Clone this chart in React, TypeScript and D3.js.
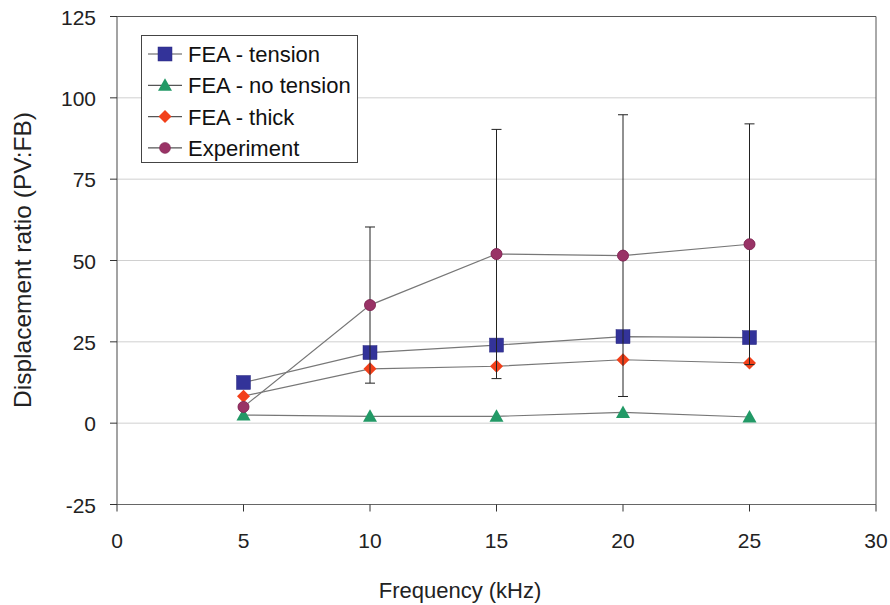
import React from "react";
import * as d3 from "d3";

const frequencies = [5, 10, 15, 20, 25];
const feaTension = [12.5, 21.7, 24.0, 26.6, 26.3];
const feaNoTension = [2.5, 2.1, 2.1, 3.3, 1.9];
const feaThick = [8.3, 16.7, 17.5, 19.5, 18.5];
const experiment = [5.0, 36.3, 52.0, 51.5, 55.0];
const experimentError = [0, 24.0, 38.3, 43.3, 37.0];
const xTicks = [0, 5, 10, 15, 20, 25, 30];
const yTicks = [-25, 0, 25, 50, 75, 100, 125];
const legendLabels = ["FEA - tension", "FEA - no tension", "FEA - thick", "Experiment"];

const W = 890, H = 605;
const left = 117, right = 876, top = 16.5, bottom = 504.5;
const font = "'Liberation Sans', Arial, sans-serif";

function Marker({ kind, x, y }: { kind: string; x: number; y: number }) {
  if (kind === "square")
    return <rect x={x - 7} y={y - 7} width={14} height={14} fill="#333399" stroke="#2b2b80" strokeWidth={0.5} />;
  if (kind === "triangle")
    return <path d={`M${x},${y - 7} L${x + 7},${y + 5.5} L${x - 7},${y + 5.5} Z`} fill="#229966" />;
  if (kind === "diamond")
    return <path d={`M${x},${y - 6.5} L${x + 6.5},${y} L${x},${y + 6.5} L${x - 6.5},${y} Z`} fill="#f2401a" />;
  return <circle cx={x} cy={y} r={5.5} fill="#993366" stroke="#7a2450" strokeWidth={0.5} />;
}

export default function App() {
  const x = d3.scaleLinear().domain([0, 30]).range([left, right]);
  const y = d3.scaleLinear().domain([-25, 125]).range([bottom, top]);
  const line = d3.line<number>().x((_, i) => x(frequencies[i])).y((d) => y(d));
  const series = [
    { values: feaTension, kind: "square" },
    { values: feaNoTension, kind: "triangle" },
    { values: feaThick, kind: "diamond" },
    { values: experiment, kind: "circle" },
  ];
  return (
    <svg width={W} height={H} style={{ position: "absolute", left: 0, top: 0, background: "#fff" }} fontFamily={font}>
      {yTicks.filter((t) => t !== -25 && t !== 125).map((t) => (
        <line key={t} x1={left} x2={right} y1={y(t)} y2={y(t)} stroke="#d0d0d0" strokeWidth={1} />
      ))}
      <line x1={left} x2={right} y1={top} y2={top} stroke="#555" strokeWidth={1} />
      <line x1={right} x2={right} y1={top} y2={bottom} stroke="#555" strokeWidth={1} />
      <line x1={left} x2={left} y1={top} y2={bottom} stroke="#666" strokeWidth={1.2} />
      <line x1={left} x2={right} y1={bottom} y2={bottom} stroke="#666" strokeWidth={1.2} />
      {yTicks.map((t) => (
        <g key={t}>
          <line x1={left - 7} x2={left} y1={y(t)} y2={y(t)} stroke="#333" />
          <text x={96} y={y(t) + 8} textAnchor="end" fontSize={21} fill="#222">{t}</text>
        </g>
      ))}
      {xTicks.map((t) => (
        <g key={t}>
          <line x1={x(t)} x2={x(t)} y1={bottom} y2={bottom + 7} stroke="#333" />
          <text x={x(t)} y={548} textAnchor="middle" fontSize={21} fill="#222">{t}</text>
        </g>
      ))}
      <text x={460} y={598} textAnchor="middle" fontSize={22} fill="#222">Frequency (kHz)</text>
      <text transform={`translate(31,260) rotate(-90)`} textAnchor="middle" fontSize={24.5} fill="#222">Displacement ratio (PV:FB)</text>
      {series.map((s, i) => (
        <path key={i} d={line(s.values) || ""} fill="none" stroke="#777" strokeWidth={1.2} />
      ))}
      {series.map((s, i) =>
        s.values.map((v, j) => <Marker key={`${i}-${j}`} kind={s.kind} x={x(frequencies[j])} y={y(v)} />)
      )}
      {experiment.map((v, j) =>
        experimentError[j] > 0 ? (
          <g key={j} stroke="#222" strokeWidth={1}>
            <line x1={x(frequencies[j])} x2={x(frequencies[j])} y1={y(v + experimentError[j])} y2={y(v - experimentError[j])} />
            <line x1={x(frequencies[j]) - 5} x2={x(frequencies[j]) + 5} y1={y(v + experimentError[j])} y2={y(v + experimentError[j])} />
            <line x1={x(frequencies[j]) - 5} x2={x(frequencies[j]) + 5} y1={y(v - experimentError[j])} y2={y(v - experimentError[j])} />
          </g>
        ) : null
      )}
      {experiment.map((v, j) => <Marker key={`c${j}`} kind="circle" x={x(frequencies[j])} y={y(v)} />)}
      <rect x={141.5} y={35.5} width={216} height={127} fill="#fff" stroke="#444" strokeWidth={1} />
      {legendLabels.map((label, i) => {
        const ly = 54 + i * 31.3;
        return (
          <g key={label}>
            <line x1={148} x2={182} y1={ly} y2={ly} stroke="#555" strokeWidth={1.2} />
            <Marker kind={series[i].kind} x={165} y={ly} />
            <text x={188} y={ly + 8} fontSize={22} fill="#111">{label}</text>
          </g>
        );
      })}
    </svg>
  );
}
